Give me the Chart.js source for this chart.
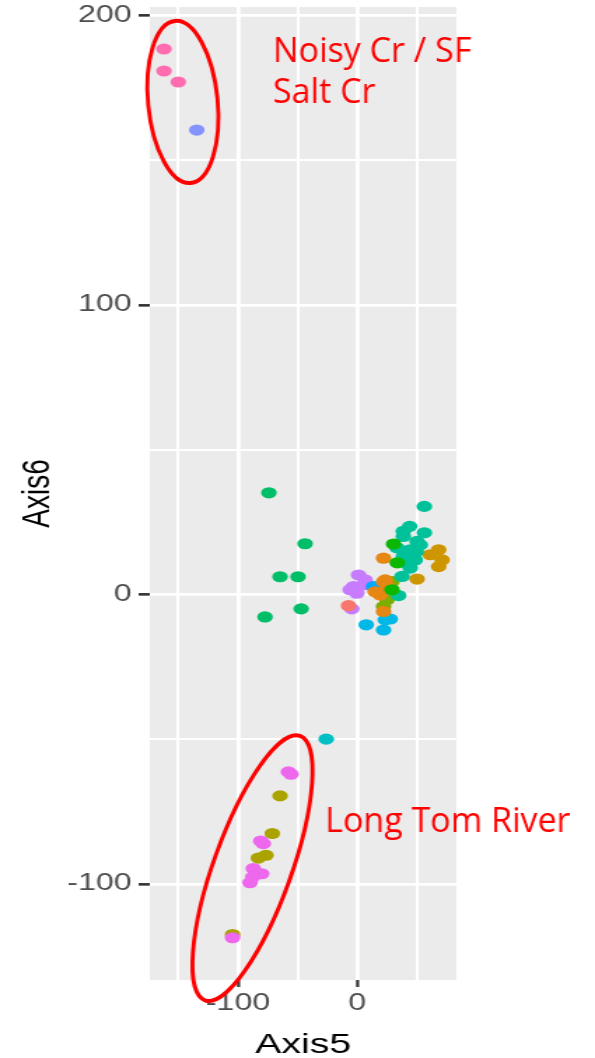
<!DOCTYPE html>
<html>
<head>
<meta charset="utf-8">
<title>Axis5 vs Axis6</title>
<script src="https://cdn.jsdelivr.net/npm/chart.js@4.4.1/dist/chart.umd.min.js"></script>
<style>
  html, body { margin: 0; padding: 0; background: #fff; overflow: hidden; }
  /* the original export was stretched sideways, so draw narrow and widen */
  #wrap { width: 425px; height: 1058px; transform: scaleX(1.4); transform-origin: 0 0; }
</style>
</head>
<body>
<div id="wrap"><canvas id="ordination" width="425" height="1058"></canvas></div>
<script>
const K = 1.4;

const xTicks = [-150, -100, -50, 0, 50];
const yTicks = [-100, -50, 0, 50, 100, 150, 200];
const xRange = [-173.9, 83.2];
const yRange = [-133.2, 202.9];

// site scores, one pair of arrays per group
const salmonX = [-7.3];
const salmonY = [-3.9];
const orangeX = [22.1, 22.1, 19.3, 22.1, 23.5, 15.1, 25.2];
const orangeY = [12.5, 4.4, -0.2, -5.9, 5.0, 0.9, 2.9];
const goldX = [68.3, 61.3, 71.2, 68.3, 50.2];
const goldY = [15.4, 13.7, 11.9, 9.6, 5.3];
const limeX = [29.2, 25.0, 22.1];
const limeY = [4.4, -1.9, -4.2];
const greenX = [30.5, 33.6, 29.2];
const greenY = [17.4, 10.9, 1.6];
const jadeX = [-74.0, -43.7, -64.7, -49.6, -47.0, -77.3];
const jadeY = [35.1, 17.5, 6.1, 6.1, -5.0, -7.8];
const tealX = [56.3, 44.0, 56.3, 38.7, 50.2, 33.4, 44.5, 38.7, 48.7, 44.5, 37.6, 34.7, 38.7, 52.9, 40.3, 49.6];
const tealY = [30.4, 23.5, 21.3, 20.0, 18.3, 16.1, 15.4, 13.1, 11.9, 9.1, 6.2, -0.4, 21.8, 17.1, 10.9, 14.7];
const cyanX = [-26.0];
const cyanY = [-50.0];
const skyX = [7.6, 23.5, 27.7, 22.1];
const skyY = [-10.5, -8.8, -8.5, -12.3];
const blueX = [13.7];
const blueY = [2.7];
const violetX = [-134.5];
const violetY = [160.4];
const purpleX = [1.1, 5.3, -3.1, -0.3, -4.5, 6.7, -5.9];
const purpleY = [6.7, 3.3, 2.7, 0.4, -5.0, 5.0, 1.6];
const magentaX = [-57.7, -55.5, -78.7, -80.9, -87.1, -80.1, -87.6, -89.9, -104.5];
const magentaY = [-61.3, -62.1, -86.1, -85.2, -94.7, -96.5, -97.6, -99.6, -118.6];
const oliveX = [-64.7, -71.2, -76.5, -82.9, -104.5];
const oliveY = [-69.6, -82.6, -90.1, -91.1, -117.5];
const pinkX = [-162.0, -162.0, -150.0];
const pinkY = [188.4, 180.8, 177.0];

// hand-drawn rings: major-axis ends (x1, y1, x2, y2) and minor/major ratio
const ringNoisy = [-152.9, 198.1, -139.5, 142.1, 0.427];
const ringLongTom = [-47.9, -48.9, -127.7, -140.2, 0.277];
const noteText = ['Noisy Cr / SF', 'Salt Cr', 'Long Tom River'];
const noteX = [-70.6, -70.6, -26.9];
const noteY = [183.9, 169.8, -82.0];

const groups = [
    [salmonX, salmonY, '#F8766D'],
    [greenX, greenY, '#0CB702'],
    [tealX, tealY, '#00C19A'],
    [orangeX, orangeY, '#E68613'],
    [goldX, goldY, '#CD9600'],
    [limeX, limeY, '#7CAE00'],
    [jadeX, jadeY, '#00BE67'],
    [cyanX, cyanY, '#00BFC4'],
    [skyX, skyY, '#00B8E7'],
    [blueX, blueY, '#00A9FF'],
    [violetX, violetY, '#8494FF'],
    [purpleX, purpleY, '#C77CFF'],
    [magentaX, magentaY, '#ED68ED'],
    [oliveX, oliveY, '#ABA300'],
    [pinkX, pinkY, '#FF6CB0']
];

function toPoints(xs, ys) {
    return xs.map((x, i) => ({ x: x, y: ys[i] }));
}

const isMajor = v => v % 100 === 0;

const panel = {
    id: 'panel',
    beforeDraw(chart) {
        const { ctx, chartArea: a } = chart;
        ctx.save();
        ctx.fillStyle = '#EBEBEB';
        ctx.fillRect(a.left, a.top, a.right - a.left, a.bottom - a.top);
        ctx.restore();
    }
};

const notes = {
    id: 'notes',
    afterDraw(chart) {
        const { ctx, scales: { x, y } } = chart;
        ctx.save();
        ctx.scale(1 / K, 1); // undo the sideways stretch for the red marks
        ctx.strokeStyle = '#FF0000';
        ctx.lineWidth = 4;
        [ringNoisy, ringLongTom].forEach(r => {
            const x1 = x.getPixelForValue(r[0]) * K, y1 = y.getPixelForValue(r[1]);
            const x2 = x.getPixelForValue(r[2]) * K, y2 = y.getPixelForValue(r[3]);
            const a = Math.hypot(x2 - x1, y2 - y1) / 2;
            ctx.beginPath();
            ctx.ellipse((x1 + x2) / 2, (y1 + y2) / 2, a, a * r[4], Math.atan2(y2 - y1, x2 - x1), 0, Math.PI * 2);
            ctx.stroke();
        });
        ctx.fillStyle = '#FF0000';
        ctx.font = '34px "Open Sans"';
        ctx.textAlign = 'left';
        ctx.textBaseline = 'alphabetic';
        noteText.forEach((t, i) => {
            ctx.fillText(t, x.getPixelForValue(noteX[i]) * K, y.getPixelForValue(noteY[i]));
        });
        ctx.restore();
    }
};

const tickFont = { family: '"Liberation Sans", Arial, sans-serif', size: 23 };
const titleFont = { family: '"Liberation Sans", Arial, sans-serif', size: 28, lineHeight: 0.92 };

new Chart(document.getElementById('ordination'), {
    type: 'scatter',
    data: {
        datasets: groups.map(g => ({
            data: toPoints(g[0], g[1]),
            backgroundColor: g[2],
            borderWidth: 0,
            pointRadius: 5.6,
            pointHoverRadius: 5.6
        }))
    },
    options: {
        responsive: false,
        animation: false,
        events: [],
        layout: { padding: { top: 7, right: 99, bottom: 0, left: 0 } },
        plugins: { legend: { display: false }, tooltip: { enabled: false } },
        scales: {
            x: {
                type: 'linear',
                min: xRange[0],
                max: xRange[1],
                afterBuildTicks: s => { s.ticks = xTicks.map(v => ({ value: v })); },
                afterFit: s => { s.height = 78; s.paddingLeft = 0; s.paddingRight = 0; },
                border: { display: false },
                grid: {
                    color: '#FFFFFF',
                    lineWidth: c => (c.tick && isMajor(c.tick.value)) ? 2.8 : 2,
                    tickColor: c => (c.tick && isMajor(c.tick.value)) ? '#333333' : 'rgba(0,0,0,0)',
                    tickLength: 7,
                    tickWidth: 2.2
                },
                ticks: {
                    callback: v => isMajor(v) ? String(v) : '',
                    color: '#4D4D4D',
                    font: tickFont,
                    padding: 3,
                    maxRotation: 0,
                    autoSkip: false
                },
                title: { display: true, text: 'Axis5', color: '#000000', font: titleFont, padding: { top: 0, bottom: 0 } }
            },
            y: {
                type: 'linear',
                min: yRange[0],
                max: yRange[1],
                afterBuildTicks: s => { s.ticks = yTicks.map(v => ({ value: v })); },
                afterFit: s => { s.width = 107; s.paddingTop = 0; s.paddingBottom = 0; },
                border: { display: false },
                grid: {
                    color: '#FFFFFF',
                    lineWidth: c => (c.tick && isMajor(c.tick.value)) ? 2.7 : 2,
                    tickColor: c => (c.tick && isMajor(c.tick.value)) ? '#333333' : 'rgba(0,0,0,0)',
                    tickLength: 8,
                    tickWidth: 2.6
                },
                ticks: {
                    callback: v => isMajor(v) ? String(v) : '',
                    color: '#4D4D4D',
                    font: tickFont,
                    padding: 5,
                    autoSkip: false
                },
                title: { display: true, text: 'Axis6', color: '#000000', font: { family: titleFont.family, size: 28 }, padding: { top: 10, bottom: 0 } }
            }
        }
    },
    plugins: [panel, notes]
});
</script>
</body>
</html>
